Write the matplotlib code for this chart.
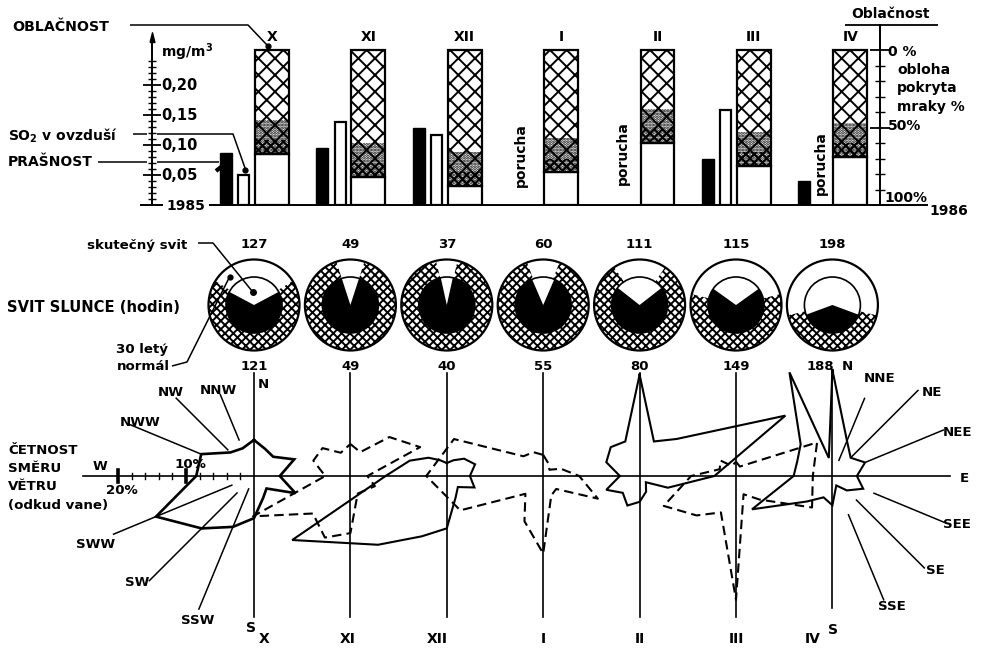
import numpy as np
import matplotlib
matplotlib.use("Agg")
import matplotlib.pyplot as plt
from matplotlib.patches import Wedge, Circle
from matplotlib.transforms import offset_copy

# ---------------- data ----------------
months = ["X", "XI", "XII", "I", "II", "III", "IV"]
prasnost = [0.087, 0.095, 0.128, np.nan, np.nan, 0.077, 0.040]   # mg/m3
so2 = [0.050, 0.138, 0.117, np.nan, np.nan, 0.158, np.nan]        # mg/m3
porucha_months = ["I", "II", "IV"]
cloud_cover = [67, 82, 88, 79, 60, 75, 69]                        # % sky covered
sun_actual = [127, 49, 37, 60, 111, 115, 198]                     # hours
sun_normal = [121, 49, 40, 55, 80, 149, 188]                      # 30-year normal, hours

directions = ["N", "NNE", "NE", "NEE", "E", "SEE", "SE", "SSE",
              "S", "SSW", "SW", "SWW", "W", "NWW", "NW", "NNW"]
wind_X = [5.3, 4.3, 4.0, 6.4, 3.8, 6.6, 2.6, 3.5, 6.2, 8.1, 10.9, 15.6, 8.5, 8.4, 4.9, 4.4]
wind_XI = [4.7, 3.8, 8.1, 11.1, 2.5, 3.9, 3.0, 2.8, 8.4, 9.8, 7.8, 15.5, 3.7, 5.9, 5.8, 3.7]
wind_XII = [1.9, 2.5, 3.6, 4.5, 3.4, 4.4, 2.3, 3.4, 7.7, 9.6, 14.3, 24.6, 9.0, 5.9, 3.8, 2.5]
wind_I = [3.1, 2.0, 1.3, 2.8, 5.3, 8.7, 2.7, 3.1, 11.4, 7.2, 3.7, 13.2, 17.2, 14.2, 4.1, 3.8]
wind_II = [14.9, 5.5, 7.7, 23.2, 11.0, 4.5, 1.3, 2.5, 3.8, 4.7, 3.5, 5.3, 2.9, 5.3, 6.0, 5.5]
wind_III = [2.1, 1.5, 2.5, 12.9, 11.3, 12.1, 4.9, 2.9, 18.2, 5.8, 8.2, 11.5, 6.6, 2.6, 3.2, 1.6]
wind_IV = [15.6, 5.6, 3.8, 5.2, 3.6, 4.9, 3.0, 1.5, 4.3, 3.4, 5.3, 12.8, 5.7, 5.6, 6.6, 16.5]
wind_IV_dip = 2.7          # drawn dip between the NNW and N spikes in April
wind_dashed = [False, True, False, True, False, True, False]

# ---------------- style ----------------
plt.rcParams["font.family"] = ["DejaVu Sans"]
plt.rcParams["font.weight"] = "bold"
plt.rcParams["mathtext.fontset"] = "dejavusans"
plt.rcParams["mathtext.default"] = "bf"
plt.rcParams["hatch.linewidth"] = 1.4

W, H = 981, 649
X0, DX = 254, 96.4          # pixel column of month 0 and pixels per month
fig = plt.figure(figsize=(W / 100, H / 100), dpi=100)


def px_axes(x0, y0, x1, y1):
    """Axes placed by pixel box, x in month units."""
    ax = fig.add_axes([x0 / W, 1 - y1 / H, (x1 - x0) / W, (y1 - y0) / H])
    ax.set_xlim((x0 - X0) / DX, (x1 - X0) / DX)
    ax.set_facecolor("none")
    return ax


xi = np.arange(len(months))

# ---------------- bars: dust, SO2, cloudiness ----------------
ax_b = px_axes(152, 25, 880, 205)
ax_b.set_ylim(0, 0.30)
for s in ["top", "right", "bottom"]:
    ax_b.spines[s].set_visible(False)
ax_b.spines["left"].set_linewidth(1.4)
ax_b.spines["left"].set_bounds(0, 0.272)
ax_b.set_yticks([0.05, 0.10, 0.15, 0.20])
ax_b.set_yticks(np.arange(0.01, 0.245, 0.01), minor=True)
ax_b.tick_params(axis="y", which="major", direction="inout", length=13, width=1.3, labelleft=False)
ax_b.tick_params(axis="y", which="minor", direction="inout", length=6, width=1.0)
ax_b.tick_params(axis="x", bottom=False, labelbottom=False)
ax_b.plot([ax_b.get_xlim()[0]], [0.272], marker=[(-1, 0), (1, 0), (0, 4), (-1, 0)],
          ms=14, color="k", clip_on=False)
lab_tr = offset_copy(ax_b.get_yaxis_transform(), x=9, y=0, units="dots")
for v in [0.05, 0.10, 0.15, 0.20]:
    ax_b.text(0, v, f"{v:.2f}".replace(".", ","), transform=lab_tr,
              ha="left", va="center", fontsize=10.5)

pr = np.array(prasnost)
s2 = np.array(so2)
ok = ~np.isnan(pr)
ax_b.bar(xi[ok] - 0.29, pr[ok], width=0.125, color="k", edgecolor="k", lw=1)
ok = ~np.isnan(s2)
ax_b.bar(xi[ok] - 0.105, s2[ok], width=0.115, facecolor="white", edgecolor="k", lw=1.6)
por_off = {"I": -0.23, "II": -0.17, "IV": -0.12}
por_base = {"I": 0.03, "II": 0.034, "IV": 0.017}
for m in porucha_months:
    ax_b.text(months.index(m) + por_off[m], por_base[m], "porucha", rotation=90,
              ha="center", va="bottom", fontsize=10)

ax_c = ax_b.twinx()
ax_c.set_ylim(100, -16.13)
for s in ["top", "left", "bottom"]:
    ax_c.spines[s].set_visible(False)
ax_c.spines["right"].set_linewidth(1.4)
ax_c.set_yticks([0, 50, 100])
ax_c.set_yticks([10, 20, 30, 40, 60, 70, 80, 90], minor=True)
ax_c.tick_params(axis="y", which="major", direction="inout", length=14, width=1.3, labelright=False)
ax_c.tick_params(axis="y", which="minor", direction="inout", length=7, width=1.0)
cc = np.array(cloud_cover, dtype=float)
xc = xi + 0.185
ax_c.bar(xc, 100 - cc, bottom=cc, width=0.35, facecolor="white", edgecolor="k", lw=1.6)
ax_c.bar(xc, cc, bottom=0, width=0.35, facecolor="white", edgecolor="k", lw=1.6, hatch="xx")
# darkening towards the clear-sky part
for depth, pattern in [(22, "......"), (9, "xxxx")]:
    ax_c.bar(xc, depth, bottom=cc - depth, width=0.33, facecolor="none",
             edgecolor="k", lw=0, hatch=pattern)
for i, m in enumerate(months):
    ax_c.text(xc[i], -8.4, m, ha="center", va="center", fontsize=10)

# ---------------- sunshine dials ----------------
ax_s = px_axes(190, 250, 900, 360)
ax_s.set_ylim(-55 / DX, 55 / DX)
ax_s.axis("off")
R, r = 45.5 / DX, 28 / DX


def half_angle(hours):
    return 0.114 * hours ** 1.3


for i in xi:
    hn = half_angle(sun_normal[i])
    ha_ = half_angle(sun_actual[i])
    ax_s.add_patch(Wedge((i, 0), R, 90 + hn, 450 - hn, width=R - r, facecolor="white",
                         edgecolor="k", lw=0, hatch="xxxx"))
    ax_s.add_patch(Wedge((i, 0), r, 90 + ha_, 450 - ha_, facecolor="k", edgecolor="k", lw=0))
    ax_s.add_patch(Circle((i, 0), R, fill=False, edgecolor="k", lw=1.6))
    ax_s.add_patch(Circle((i, 0), r, fill=False, edgecolor="k", lw=1.2))
    ax_s.text(i, 60 / DX, str(sun_actual[i]), ha="center", va="center", fontsize=9.5)
    ax_s.text(i - (0.12 if i == 6 else 0), -61 / DX, str(sun_normal[i]),
              ha="center", va="center", fontsize=9.5)

# ---------------- wind roses ----------------
ax_w = px_axes(60, 365, 975, 630)
ax_w.set_ylim((476 - 630) / DX, (476 - 365) / DX)
ax_w.axis("off")
S = 6.8 / DX                   # one percent in month units
ax_w.plot([(83 - X0) / DX, (950 - X0) / DX], [0, 0], color="k", lw=1.2)
for i in xi:
    top = 106 if i == 6 else 103
    bot = 132 if i == 6 else 141
    ax_w.plot([i, i], [-bot / DX, top / DX], color="k", lw=1.2)
for p in range(2, 21, 2):
    big = p % 10 == 0
    h = (6 if big else 3) / DX
    ax_w.plot([-p * S, -p * S], [-h, h], color="k", lw=2.6 if big else 1.0)

roses = [wind_X, wind_XI, wind_XII, wind_I, wind_II, wind_III, wind_IV]
for i, vals in enumerate(roses):
    ang = list(np.arange(16) * 22.5)
    v = list(vals)
    if months[i] == "IV":
        ang.append(348.75)
        v.append(wind_IV_dip)
    ang.append(360.0)
    v.append(vals[0])
    t = np.deg2rad(ang)
    v = np.array(v)
    ls = (0, (4.5, 2.5)) if wind_dashed[i] else "-"
    ax_w.plot(i + v * S * np.sin(t), v * S * np.cos(t), color="k",
              lw=1.9 if i == 0 else 1.5, ls=ls, solid_joinstyle="miter")

# leaders: (direction, start radius px, end radius px, rose index)
leaders = [("NWW", 57, 136, 0), ("NW", 37, 110, 0), ("NNW", 39, 88, 0),
           ("SWW", 24, 152, 0), ("SW", 24, 148, 0), ("SSW", 14, 144, 0),
           ("NNE", 17, 84, 6), ("NE", 26, 121, 6), ("NEE", 37, 120, 6),
           ("SEE", 45, 121, 6), ("SE", 34, 130, 6), ("SSE", 42, 134, 6)]
for d, r0, r1, c in leaders:
    a = np.deg2rad(directions.index(d) * 22.5)
    ax_w.plot([c + r0 / DX * np.sin(a), c + r1 / DX * np.sin(a)],
              [r0 / DX * np.cos(a), r1 / DX * np.cos(a)], color="k", lw=1.1)

bottom_lab = {"X": 0.1, "XI": -0.03, "XII": -0.1, "I": 0, "II": 0, "III": 0, "IV": -0.2}
for i, m in enumerate(months):
    ax_w.text(i + bottom_lab[m], -163 / DX, m, ha="center", va="center", fontsize=10)

# ---------------- annotations (pixel overlay) ----------------
ax_o = fig.add_axes([0, 0, 1, 1])
ax_o.set_xlim(0, W)
ax_o.set_ylim(H, 0)
ax_o.axis("off")
ax_o.patch.set_alpha(0)


def line(pts, lw=1.1):
    pts = np.array(pts)
    ax_o.plot(pts[:, 0], pts[:, 1], color="k", lw=lw, solid_capstyle="butt")


def txt(x, y, s, size=9.8, ha="left", va="center", **kw):
    ax_o.text(x, y, s, fontsize=size, ha=ha, va=va, **kw)


# top block
txt(12, 27, "OBLAČNOST", 10.2)
line([(130, 25), (248, 25), (267, 45)])
ax_o.plot(268, 46, "ko", ms=3.5)
txt(8, 136, "SO$_2$ v ovzduší", 10)
line([(133, 134), (147, 134)])
line([(157, 134), (233, 134), (245, 168)])
ax_o.plot(245, 170, "ko", ms=3.5)
txt(8, 162, "PRAŠNOST", 10)
line([(98, 162), (147, 162)])
line([(157, 162), (219, 162)])
line([(216, 171), (226, 163)], lw=3)
txt(161, 52, "mg/m$^3$", 10)
line([(140, 205), (163, 205)], lw=1.4)
line([(209, 205), (928, 205)], lw=1.4)
txt(186, 206, "1985", 10, ha="center")
txt(891, 14, "Oblačnost", 10, ha="center")
line([(845, 25), (938, 25)], lw=1.3)
txt(888, 52, "0 %", 10)
txt(897, 70, "obloha", 10)
txt(897, 88, "pokryta", 10)
txt(897, 107, "mraky %", 10)
txt(888, 126, "50%", 10)
txt(884, 198, "100%", 10)
txt(949, 211, "1986", 10, ha="center")

# middle block
txt(87, 245, "skutečný svit", 9.6)
line([(198, 243), (213, 243), (252, 291)])
ax_o.plot(253, 292, "ko", ms=4)
txt(7, 307, "SVIT SLUNCE (hodin)", 10.6)
txt(168, 350, "30 letý", 9.6, ha="right")
txt(170, 366, "normál", 9.6, ha="right")
line([(172, 366), (187, 362), (229, 278)])
ax_o.plot(230, 277, "ko", ms=3.5)

# wind block
txt(8, 450, "ČETNOST", 9.6)
txt(8, 468, "SMĚRU", 9.6)
txt(8, 487, "VĚTRU", 9.6)
txt(8, 506, "(odkud vane)", 9.6)
txt(100, 467, "W", 9.6, ha="center")
txt(190, 465, "10%", 9.6, ha="center")
txt(122, 491, "20%", 9.6, ha="center")
txt(263, 385, "N", 9.6, ha="center")
txt(847, 366, "N", 9.6, ha="center")
txt(251, 628, "S", 10, ha="center")
txt(833, 630, "S", 10, ha="center")
for lab, x, y in [("NWW", 140, 423), ("NW", 171, 393), ("NNW", 218, 390),
                  ("SWW", 96, 545), ("SW", 137, 582), ("SSW", 198, 620),
                  ("NNE", 880, 378), ("NE", 932, 392), ("NEE", 957, 432),
                  ("E", 964, 478), ("SEE", 957, 525), ("SE", 935, 570), ("SSE", 892, 607)]:
    txt(x, y, lab, 9.6, ha="center")

fig.savefig("out.png", dpi=100)
